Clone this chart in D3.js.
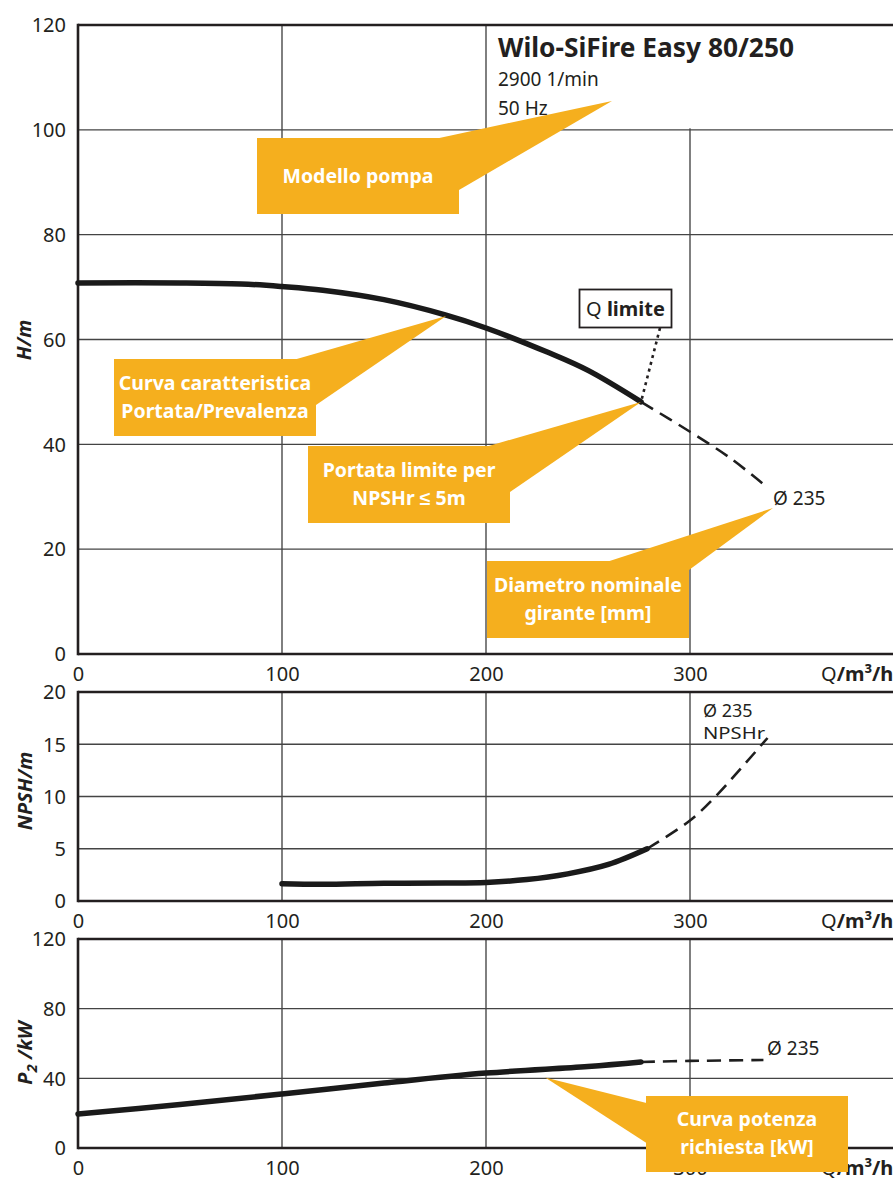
<!DOCTYPE html>
<html><head><meta charset="utf-8">
<script src="https://cdn.jsdelivr.net/npm/d3@7"></script>
<style>
body{margin:0;background:#fff}
svg text{font-family:"Noto Sans",sans-serif;fill:#231f20}
</style>
</head><body>
<svg id="c" width="893" height="1189"></svg>
<script>
// ---------- data ----------
const qTicks = [0, 100, 200, 300];
const hTicks = [0, 20, 40, 60, 80, 100, 120];
const npshTicks = [0, 5, 10, 15, 20];
const pTicks = [0, 40, 80, 120];

// H(Q) characteristic curve, impeller Ø 235
const hSolidQ = [0, 50, 80, 100, 120, 150, 180, 200, 230, 250, 276];
const hSolidH = [70.8, 70.8, 70.6, 70.1, 69.4, 67.6, 64.7, 62.2, 57.6, 54.1, 48.1];
const hDashQ = [276, 300, 320, 336];
const hDashH = [48.1, 42.4, 37.3, 32.4];

// NPSHr curve
const nSolidQ = [100, 120, 150, 180, 200, 220, 240, 260, 279];
const nSolidV = [1.65, 1.6, 1.7, 1.72, 1.78, 2.05, 2.6, 3.5, 5.0];
const nDashQ = [279, 300, 313, 325, 338];
const nDashV = [5.0, 7.7, 10.1, 12.7, 15.6];

// P2 power curve
const pSolidQ = [0, 50, 100, 150, 200, 250, 276];
const pSolidV = [19.5, 25.0, 31.0, 37.3, 43.0, 46.8, 49.4];
const pDashQ = [276, 300, 336];
const pDashV = [49.4, 50.0, 50.5];

// ---------- layout ----------
const W = 893;
const svg = d3.select("#c");
const x = d3.scaleLinear().domain([0, 400]).range([78, 894]);
const yH = d3.scaleLinear().domain([0, 120]).range([654, 25]);
const yN = d3.scaleLinear().domain([0, 20]).range([901, 692]);
const yP = d3.scaleLinear().domain([0, 120]).range([1148, 939]);
const ORANGE = "#F5AF1E";
const INK = "#231f20";

function zip(a, b) { return a.map((v, i) => [v, b[i]]); }

function panel(y, ticks, titleNodes, titleY, opts) {
  const g = svg.append("g");
  const [y0, y1] = y.range();
  g.selectAll("line.vg").data(qTicks.filter(d => d > 0)).join("line")
    .attr("x1", d => x(d)).attr("x2", d => x(d))
    .attr("y1", y0).attr("y2", y1)
    .attr("stroke", "#2a2a2a").attr("stroke-width", 1.2);
  const inner = ticks.filter(d => d > y.domain()[0] && d < y.domain()[1]);
  g.selectAll("line.hg").data(inner).join("line")
    .attr("x1", x(0)).attr("x2", W)
    .attr("y1", d => y(d)).attr("y2", d => y(d))
    .attr("stroke", "#444").attr("stroke-width", 1.3);
  if (opts && opts.titleMask) {
    g.append("rect").attr("x", x(200) + 1).attr("y", y(120))
      .attr("width", W - x(200)).attr("height", y(100) - y(120) - 1.5)
      .attr("fill", "#fff");
  }
  g.append("line").attr("x1", x(0)).attr("x2", W).attr("y1", y1).attr("y2", y1)
    .attr("stroke", INK).attr("stroke-width", 2.4);
  g.append("line").attr("x1", x(0)).attr("x2", W).attr("y1", y0).attr("y2", y0)
    .attr("stroke", INK).attr("stroke-width", 2.4);
  g.append("line").attr("x1", x(0)).attr("x2", x(0)).attr("y1", y1 - 1.2).attr("y2", y0 + 1.2)
    .attr("stroke", INK).attr("stroke-width", 2.6);
  const ya = g.append("g").attr("transform", `translate(${x(0)},0)`)
    .call(d3.axisLeft(y).tickValues(ticks).tickSize(0).tickPadding(12));
  ya.select(".domain").remove();
  ya.selectAll("text").attr("font-size", 20).attr("font-family", "Noto Sans")
    .attr("fill", INK).attr("dy", "0.34em");
  const xa = g.append("g").attr("transform", `translate(0,${y0})`)
    .call(d3.axisBottom(x).tickValues(qTicks).tickSize(0).tickPadding(13));
  xa.select(".domain").remove();
  xa.selectAll("text").attr("font-size", 20).attr("font-family", "Noto Sans").attr("fill", INK);
  const ql = g.append("text").attr("x", 821).attr("y", y0 + 27).attr("font-size", 20);
  ql.append("tspan").text("Q");
  ql.append("tspan").attr("font-weight", "bold").text("/m³/h");
  const t = g.append("text")
    .attr("transform", `translate(${titleY[0]},${titleY[1]}) rotate(-90)`)
    .attr("text-anchor", "middle").attr("font-size", 20)
    .attr("font-weight", "bold").attr("font-style", "italic");
  titleNodes(t);
  return g;
}

panel(yH, hTicks, t => t.text("H/m"), [31, 340], { titleMask: true });
panel(yN, npshTicks, t => t.text("NPSH/m"), [32, 791]);
panel(yP, pTicks, t => {
  t.append("tspan").text("P");
  t.append("tspan").attr("font-size", 15).attr("dy", 5).text("2");
  t.append("tspan").attr("dy", -5).text(" /kW");
}, [32, 1053]);

// ---------- curves ----------
function drawCurve(y, qs, vs, dashed) {
  const line = d3.line().x(d => x(d[0])).y(d => y(d[1])).curve(d3.curveCatmullRom.alpha(0.5));
  svg.append("path").datum(zip(qs, vs)).attr("d", line)
    .attr("fill", "none").attr("stroke", dashed ? "#1e1e1e" : "#1a1a1a")
    .attr("stroke-width", dashed ? 2.6 : 5.5)
    .attr("stroke-linecap", dashed ? "butt" : "round")
    .attr("stroke-dasharray", dashed ? "14,8" : null);
}
drawCurve(yH, hDashQ, hDashH, true);
drawCurve(yH, hSolidQ, hSolidH, false);
drawCurve(yN, nDashQ, nDashV, true);
drawCurve(yN, nSolidQ, nSolidV, false);
drawCurve(yP, pDashQ, pDashV, true);
drawCurve(yP, pSolidQ, pSolidV, false);

// ---------- title block ----------
svg.append("text").attr("x", 498).attr("y", 57).attr("font-size", 26)
  .attr("font-weight", "bold").attr("textLength", 296).attr("lengthAdjust", "spacingAndGlyphs")
  .text("Wilo-SiFire Easy 80/250");
svg.append("text").attr("x", 498).attr("y", 86).attr("font-size", 19).text("2900 1/min");
svg.append("text").attr("x", 498).attr("y", 115).attr("font-size", 19).text("50 Hz");

// ---------- curve labels ----------
svg.append("text").attr("x", 773).attr("y", 505).attr("font-size", 19).text("Ø 235");
svg.append("text").attr("x", 703).attr("y", 717).attr("font-size", 18).text("Ø 235");
svg.append("text").attr("x", 703).attr("y", 739).attr("font-size", 17)
  .attr("textLength", 62).attr("lengthAdjust", "spacingAndGlyphs").text("NPSHr");
svg.append("text").attr("x", 767).attr("y", 1055).attr("font-size", 19).text("Ø 235");

// Q limite box with dotted leader
const qLim = [x(276), yH(48.1)];
svg.append("line").attr("x1", 660).attr("y1", 328).attr("x2", qLim[0]).attr("y2", qLim[1])
  .attr("stroke", INK).attr("stroke-width", 2.6).attr("stroke-dasharray", "3,4");
svg.append("rect").attr("x", 579.5).attr("y", 289.5).attr("width", 92).attr("height", 38)
  .attr("fill", "#fff").attr("stroke", INK).attr("stroke-width", 1.8);
const qt = svg.append("text").attr("x", 625.5).attr("y", 316).attr("text-anchor", "middle").attr("font-size", 20);
qt.append("tspan").text("Q ");
qt.append("tspan").attr("font-weight", "bold").text("limite");

// ---------- orange callouts ----------
function callout(box, base1, base2, tip, lines) {
  const g = svg.append("g");
  g.append("polygon").attr("points", [base1, tip, base2].map(p => p.join(",")).join(" "))
    .attr("fill", ORANGE);
  g.append("rect").attr("x", box[0]).attr("y", box[1]).attr("width", box[2] - box[0])
    .attr("height", box[3] - box[1]).attr("fill", ORANGE);
  const cx = (box[0] + box[2]) / 2, cy = (box[1] + box[3]) / 2;
  const lh = 28;
  lines.forEach((s, i) => {
    g.append("text").attr("x", cx).attr("y", cy + 7 + (i - (lines.length - 1) / 2) * lh - (lines.length > 1 ? 1 : 0))
      .attr("text-anchor", "middle").attr("font-size", 19.5).attr("font-weight", "bold")
      .style("fill", "#fff").text(s);
  });
}
callout([257, 138, 459, 214], [437, 138.5], [459, 190], [612, 101], ["Modello pompa"]);
callout([114, 359, 316, 436], [295, 359.5], [316, 405], [x(180.5), yH(64.5)],
  ["Curva caratteristica", "Portata/Prevalenza"]);
callout([308, 446, 510, 523], [487, 446.5], [510, 492], qLim,
  ["Portata limite per", "NPSHr ≤ 5m"]);
callout([487, 561, 689, 638], [608, 561.5], [689, 570], [773, 508],
  ["Diametro nominale", "girante [mm]"]);
callout([646, 1096, 848, 1172], [646.5, 1103], [646.5, 1143], [x(229), yP(40.5)],
  ["Curva potenza", "richiesta [kW]"]);
</script>
</body></html>
